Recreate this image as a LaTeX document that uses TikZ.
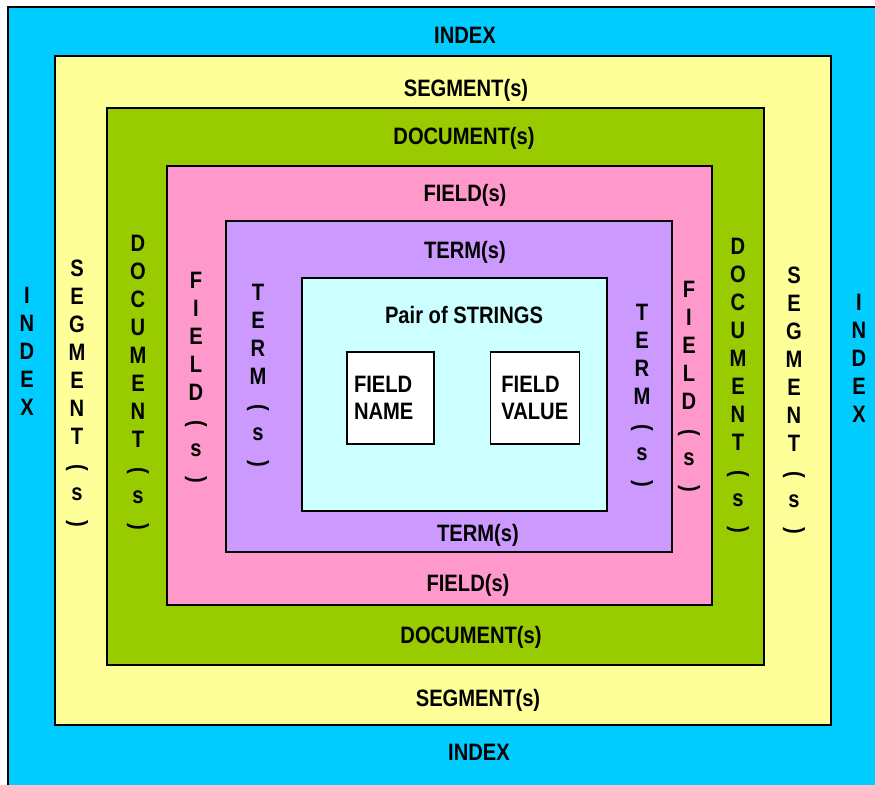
\documentclass[tikz,border=0pt]{standalone}
\usepackage{fontspec}
\newfontfamily\lblfont{Liberation Sans}[FakeStretch=0.85]
\definecolor{idxblue}{RGB}{0,204,255}
\definecolor{segyellow}{RGB}{255,255,153}
\definecolor{docgreen}{RGB}{153,204,0}
\definecolor{fldpink}{RGB}{255,153,204}
\definecolor{trmpurple}{RGB}{204,153,255}
\definecolor{strcyan}{RGB}{204,255,255}
\usetikzlibrary{positioning}
\newcommand{\popen}{\raisebox{4.5pt}{\rotatebox{-90}{(}}}
\newcommand{\pclose}{\raisebox{4.5pt}{\rotatebox{-90}{)}}}

\begin{document}
\begin{tikzpicture}[x=0.02cm, y=-0.02cm,
    layer/.style={draw=black, line width=0.8pt},
    lbl/.style={font=\lblfont\bfseries\fontsize{13.5}{15.4}\selectfont, inner sep=0pt, anchor=base},
    vlbl/.style={font=\lblfont\bfseries\fontsize{13.5}{15.94}\selectfont, inner sep=0pt, align=center, anchor=north},
    strbox/.style={draw=black, line width=0.8pt, fill=white, minimum height=1.84cm, align=left,
        font=\lblfont\bfseries\fontsize{13.5}{15.4}\selectfont}]
  \useasboundingbox (0,0) rectangle (875,784);
  \clip (0,0) rectangle (875,784);
  \fill[white] (0,0) rectangle (875,784);

  \draw[layer, fill=idxblue] (8,7) rectangle (890,800);
  \draw[layer, fill=segyellow] (55,56) rectangle (831,725);
  \draw[layer, fill=docgreen] (107,108) rectangle (764,665);
  \draw[layer, fill=fldpink] (167,166) rectangle (712,605);
  \draw[layer, fill=trmpurple] (226,221) rectangle (672,552);
  \draw[layer, fill=strcyan] (302,278) rectangle (607,511);

  \node[lbl] (idxT) at (465,43.5) {INDEX};
  \node[lbl] (idxB) at (479,760.5) {INDEX};
  \node[lbl] (segT) at (466,96.5) {SEGMENT(s)};
  \node[lbl] (segB) at (478,706.5) {SEGMENT(s)};
  \node[lbl] (docT) at (464,144.5) {DOCUMENT(s)};
  \node[lbl] (docB) at (471,643.5) {DOCUMENT(s)};
  \node[lbl] (fldT) at (465,201.5) {FIELD(s)};
  \node[lbl] (fldB) at (468,591.5) {FIELD(s)};
  \node[lbl] (trmT) at (465,258.5) {TERM(s)};
  \node[lbl] (trmB) at (478,541.5) {TERM(s)};
  \node[lbl] (pair) at (464,323.5) {Pair of STRINGS};

  \node[vlbl] (idxL) at (27,286.5) {I\\N\\D\\E\\X};
  \node[vlbl] (segL) at (77,259.5) {S\\E\\G\\M\\E\\N\\T\\\popen\\s\\\pclose};
  \node[vlbl] (docL) at (138,234.5) {D\\O\\C\\U\\M\\E\\N\\T\\\popen\\s\\\pclose};
  \node[vlbl] (fldL) at (196,271.5) {F\\I\\E\\L\\D\\\popen\\s\\\pclose};
  \node[vlbl] (trmL) at (258,283.5) {T\\E\\R\\M\\\popen\\s\\\pclose};
  \node[vlbl] (trmR) at (642,303.5) {T\\E\\R\\M\\\popen\\s\\\pclose};
  \node[vlbl] (fldR) at (689,280.5) {F\\I\\E\\L\\D\\\popen\\s\\\pclose};
  \node[vlbl] (docR) at (738,237.5) {D\\O\\C\\U\\M\\E\\N\\T\\\popen\\s\\\pclose};
  \node[vlbl] (segR) at (794,266.5) {S\\E\\G\\M\\E\\N\\T\\\popen\\s\\\pclose};
  \node[vlbl] (idxR) at (859,293.5) {I\\N\\D\\E\\X};

  \node[strbox, text width=1.46cm, inner xsep=0.14cm] (fname) at (390.5,398) {FIELD\\NAME};
  \node[strbox, text width=1.34cm, inner xsep=0.22cm, right=1.1cm of fname] (fvalue) {FIELD\\VALUE};
\end{tikzpicture}
\end{document}
